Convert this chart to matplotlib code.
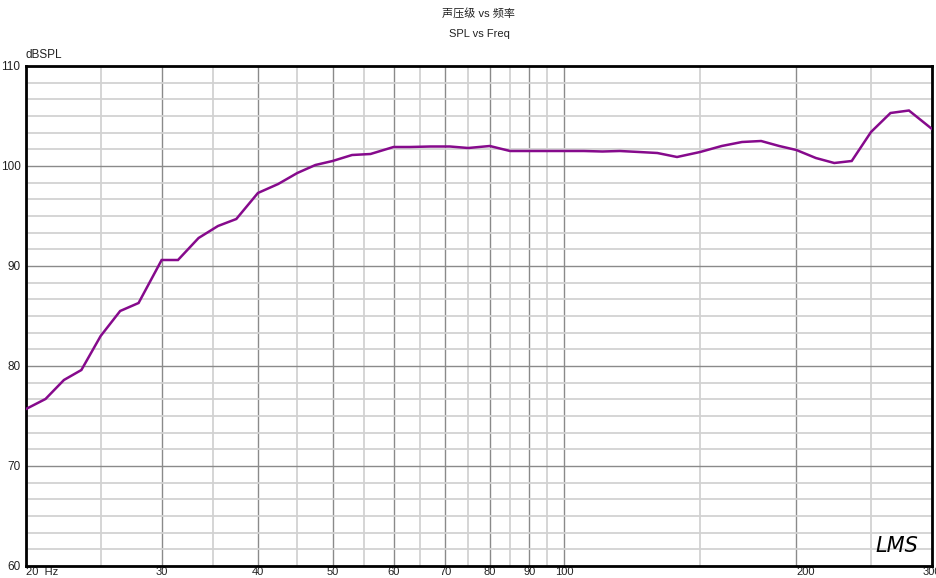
import matplotlib
matplotlib.use("Agg")
import matplotlib.pyplot as plt
import numpy as np

# ---- data ----
freq_hz = [20, 21.2, 22.4, 23.6, 25, 26.5, 28, 30, 31.5, 33.5, 35.5, 37.5,
           40, 42.5, 45, 47.5, 50, 53, 56, 60, 63, 67, 71, 75,
           80, 85, 90, 95, 100, 106, 112, 118, 125, 132, 140, 150,
           160, 170, 180, 190, 200, 212, 224, 236, 250, 265, 280, 300]
spl_db = [75.7, 76.7, 78.6, 79.6, 83.0, 85.5, 86.3, 90.6, 90.6, 92.8, 94.0, 94.7,
          97.3, 98.2, 99.3, 100.1, 100.5, 101.1, 101.2, 101.9, 101.9, 101.95, 101.95, 101.8,
          102.0, 101.5, 101.5, 101.5, 101.5, 101.5, 101.45, 101.5, 101.4, 101.3, 100.9, 101.4,
          102.0, 102.4, 102.5, 102.0, 101.6, 100.8, 100.3, 100.5, 103.4, 105.3, 105.55, 103.7]

x_major = [20, 30, 40, 50, 60, 70, 80, 90, 100, 200, 300]
x_major_labels = ["20  Hz", "30", "40", "50", "60", "70", "80", "90", "100", "200", "300"]
x_minor = [25, 35, 45, 55, 65, 75, 85, 95, 150, 250]
y_major = [60, 70, 80, 90, 100, 110]
y_major_labels = ["60", "70", "80", "90", "100", "110"]

title_cn = "声压级 vs 频率"
title_en = "SPL vs Freq"
y_unit = "dBSPL"

fams = ["Liberation Sans", "Noto Sans CJK SC", "DejaVu Sans"]
plt.rcParams["font.family"] = fams

fig = plt.figure(figsize=(9.37, 5.78), dpi=100)
ax = fig.add_axes([26/937, 1-566/578, (932-26)/937, (566-66)/578])

ax.plot(freq_hz, spl_db, color="#860a8c", lw=1.8, zorder=3, solid_joinstyle="miter")

ax.set_xscale("log")
ax.set_xlim(20, 300)
ax.set_ylim(60, 110)

ax.set_xticks(x_major)
ax.set_xticklabels(x_major_labels)
ax.set_xticks(x_minor, minor=True)
ax.xaxis.set_minor_formatter(matplotlib.ticker.NullFormatter())
ax.set_yticks(y_major)
ax.set_yticklabels(y_major_labels)
ymin = [v for v in np.arange(60, 110.01, 10/6) if min(abs(v - m) for m in y_major) > 0.1]
ax.set_yticks(ymin, minor=True)

ax.tick_params(which="both", length=0, colors="#222222")
ax.tick_params(axis="x", pad=1, labelsize=8)
ax.tick_params(axis="y", pad=4, labelsize=8.5)
for lab in ax.get_xticklabels():
    if lab.get_text().startswith("20"):
        lab.set_ha("left")

ax.grid(which="major", color="#8a8a8a", lw=1.0, zorder=1)
ax.grid(which="minor", color="#d2d2d2", lw=1.3, zorder=0)
ax.set_axisbelow(True)

for sp in ax.spines.values():
    sp.set_color("black")
    sp.set_linewidth(2.0)

fig.text(479/937, 1-14/578, title_cn, ha="center", va="center", fontsize=8, color="#222222", family=fams)
fig.text(479/937, 1-34/578, title_en, ha="center", va="center", fontsize=8, color="#222222", family=fams)
fig.text(26/937, 1-55/578, y_unit, ha="left", va="center", fontsize=8.5, color="#222222", family=fams)

fig.text(897/937, 1-546/578, "LMS", ha="center", va="center", fontsize=15,
         style="italic", color="black", family=["DejaVu Sans"])

fig.savefig("out.png", dpi=100)
